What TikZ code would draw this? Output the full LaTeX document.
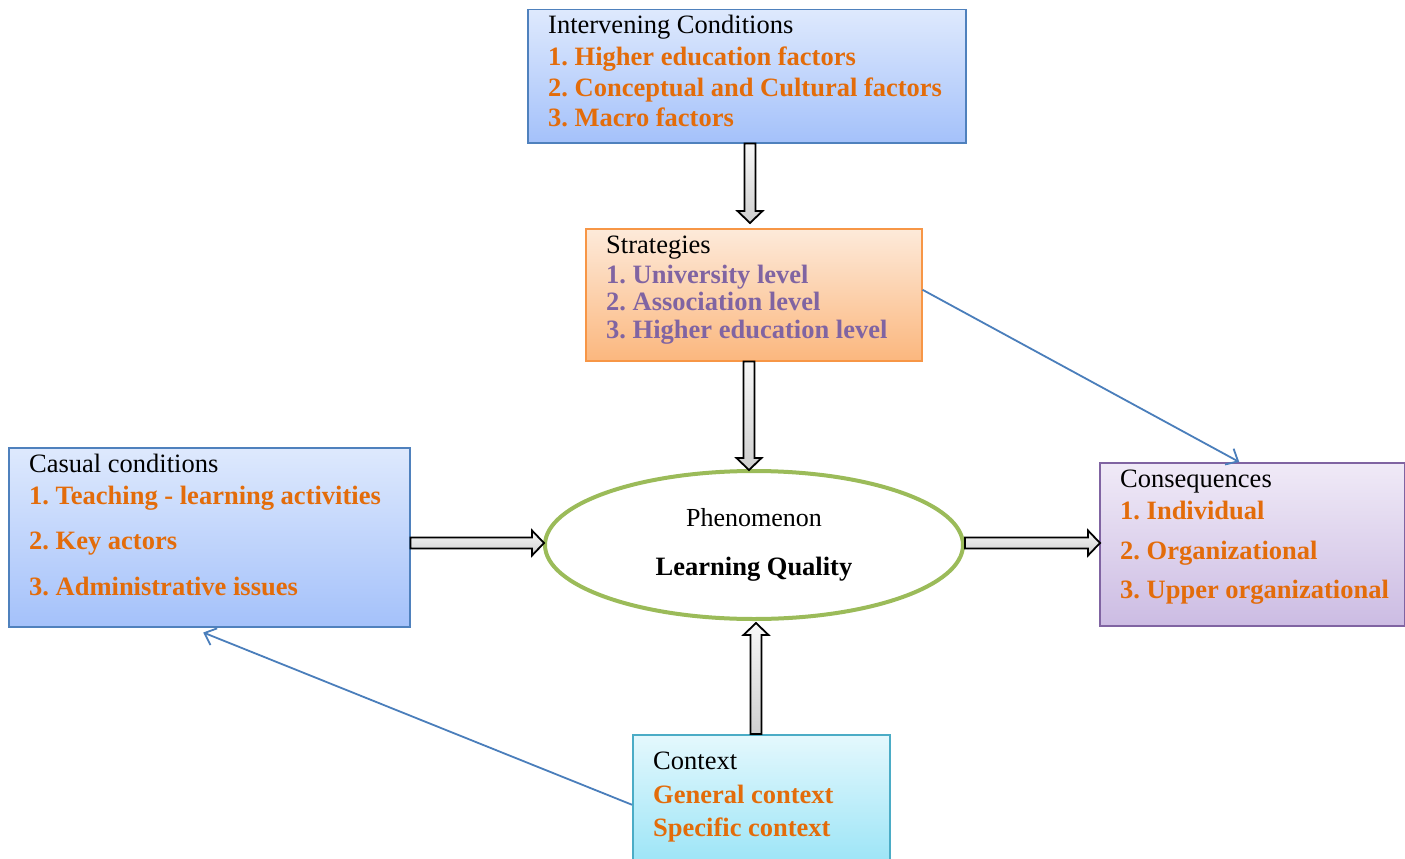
\documentclass[tikz,border=0pt]{standalone}
\usepackage{fontspec}
\setmainfont{Liberation Serif}
\usetikzlibrary{calc,shapes.geometric,arrows.meta}
\frenchspacing
\definecolor{bluetop}{RGB}{222,233,253}
\definecolor{bluebot}{RGB}{164,193,250}
\definecolor{blueline}{RGB}{79,129,189}
\definecolor{oratop}{RGB}{253,234,218}
\definecolor{orabot}{RGB}{251,183,126}
\definecolor{oraline}{RGB}{247,150,70}
\definecolor{purtop}{RGB}{240,234,247}
\definecolor{purbot}{RGB}{204,188,227}
\definecolor{purline}{RGB}{128,100,162}
\definecolor{cyatop}{RGB}{228,248,253}
\definecolor{cyabot}{RGB}{150,227,246}
\definecolor{cyaline}{RGB}{75,172,198}
\definecolor{orangeT}{RGB}{227,108,10}
\definecolor{purpleT}{RGB}{128,100,162}
\definecolor{greenE}{RGB}{155,187,89}
\definecolor{linkblue}{RGB}{74,126,187}
\tikzset{
  box/.style={rectangle, draw, line width=1.5pt, inner sep=0pt, anchor=north west},
  bluebox/.style={box, draw=blueline, top color=bluetop, bottom color=bluebot},
  orabox/.style={box, draw=oraline, top color=oratop, bottom color=orabot},
  purbox/.style={box, draw=purline, top color=purtop, bottom color=purbot},
  cyabox/.style={box, draw=cyaline, top color=cyatop, bottom color=cyabot},
  head/.style={anchor=base west, inner sep=0pt, font=\fontsize{26.5}{30}\selectfont},
  item/.style={anchor=base west, inner sep=0pt, font=\fontsize{26.5}{30}\selectfont\bfseries},
  oitem/.style={item, text=orangeT},
  pitem/.style={item, text=purpleT},
  barrow/.style={draw=black, line width=1.8pt, top color=gray!6, bottom color=gray!38, line join=miter},
  thinarrow/.style={draw=linkblue, line width=1.8pt, -{Straight Barb[length=10pt,width=18pt,line width=1.8pt]}}
}
\newcommand\blockarr[2]{%
  \path ($(#2)!12pt!(#1)$) coordinate (bh);
  \draw[barrow] ($(#1)!5.5pt!90:(#2)$) -- ($(bh)!5.5pt!90:(#2)$) -- ($(bh)!12.5pt!90:(#2)$) -- (#2)
     -- ($(bh)!12.5pt!-90:(#2)$) -- ($(bh)!5.5pt!-90:(#2)$) -- ($(#1)!5.5pt!-90:(#2)$) -- cycle;}
\begin{document}
\begin{tikzpicture}[x=1pt,y=-1pt]
\useasboundingbox (0,0) rectangle (1405,859);
\fill[white] (0,0) rectangle (1405,859);
% boxes
\node[bluebox, minimum width=438pt, minimum height=133pt] (int) at (527,9) {};
\node[orabox, minimum width=336pt, minimum height=132pt] (str) at (585,228) {};
\node[bluebox, minimum width=401pt, minimum height=179pt] (cas) at (8,447) {};
\node[purbox, minimum width=305pt, minimum height=163pt] (con) at (1099,462) {};
\node[cyabox, minimum width=257pt, minimum height=140pt] (ctx) at (632,734) {};
\node[ellipse, draw=greenE, line width=4pt, inner sep=0pt, minimum width=418pt, minimum height=148pt] (phen) at (754,545) {};
% texts
\node[head] (int0) at (548,34) {Intervening Conditions};
\node[oitem] (int1) at (548,66) {1. Higher education factors};
\node[oitem] (int2) at (548,96) {2. Conceptual and Cultural factors};
\node[oitem] (int3) at (548,126) {3. Macro factors};
\node[head] (str0) at (606,253) {Strategies};
\node[pitem] (str1) at (606,283) {1. University level};
\node[pitem] (str2) at (606,310) {2. Association level};
\node[pitem] (str3) at (606,338) {3. Higher education level};
\node[head] (cas0) at (29,472) {Casual conditions};
\node[oitem] (cas1) at (29,504) {1. Teaching - learning activities};
\node[oitem] (cas2) at (29,549) {2. Key actors};
\node[oitem] (cas3) at (29,595) {3. Administrative issues};
\node[head] (con0) at (1120,487) {Consequences};
\node[oitem] (con1) at (1120,519) {1. Individual};
\node[oitem] (con2) at (1120,559) {2. Organizational};
\node[oitem] (con3) at (1120,598) {3. Upper organizational};
\node[head] (ctx0) at (653,769) {Context};
\node[oitem] (ctx1) at (653,803) {General context};
\node[oitem] (ctx2) at (653,836) {Specific context};
\node[anchor=base, inner sep=0pt, font=\fontsize{26}{28}\selectfont] (ph0) at (754,526) {Phenomenon};
\node[anchor=base, inner sep=0pt, font=\fontsize{26.5}{30}\selectfont\bfseries] (ph1) at (754,575) {Learning Quality};
% block arrows
\coordinate (xa) at (750,0);
\coordinate (xb) at (749,0);
\coordinate (xc) at (756,0);
\coordinate (ya) at (0,543);
\coordinate (a1s) at (int.south -| xa);
\coordinate (a1e) at ($(str.north -| xa)+(0,-5)$);
\coordinate (a2s) at (str.south -| xb);
\coordinate (a2e) at ($(phen.north -| xb)+(0,1)$);
\coordinate (a3s) at (cas.east |- ya);
\coordinate (a3e) at ($(phen.west |- ya)+(1,0)$);
\coordinate (a4s) at (phen.east |- ya);
\coordinate (a4e) at ($(con.west |- ya)+(1,0)$);
\coordinate (a5s) at (ctx.north -| xc);
\coordinate (a5e) at ($(phen.south -| xc)+(0,2)$);
\blockarr{a1s}{a1e}
\blockarr{a2s}{a2e}
\blockarr{a3s}{a3e}
\blockarr{a4s}{a4e}
\blockarr{a5s}{a5e}
% thin arrows
\draw[thinarrow] ([yshift=5pt]str.east) -- ([xshift=-13pt]con.north);
\draw[thinarrow] (ctx.west) -- ([shift={(-6,5)}]cas.south);
\end{tikzpicture}
\end{document}
